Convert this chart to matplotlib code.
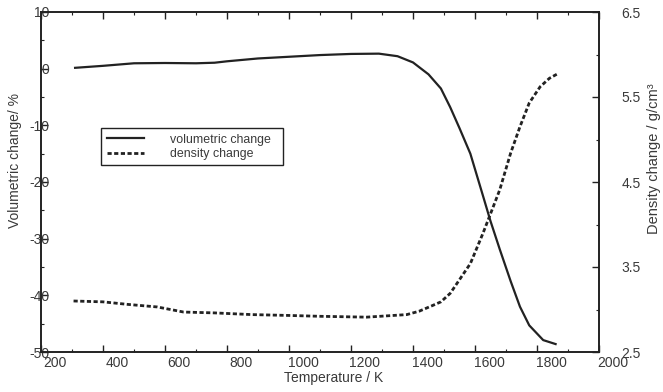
import matplotlib
matplotlib.use("Agg")
import matplotlib.pyplot as plt
from matplotlib.patches import Rectangle
from matplotlib.transforms import ScaledTranslation
from matplotlib.ticker import MultipleLocator

plt.rcParams["font.family"] = ["Liberation Sans", "DejaVu Sans"]
plt.rcParams["axes.unicode_minus"] = False

# ---------- data ----------
temp_vol = [310, 400, 500, 600, 700, 760, 800, 900, 1000, 1100, 1200, 1290,
            1350, 1400, 1450, 1490, 1520, 1550, 1585, 1625, 1650, 1680,
            1715, 1745, 1775, 1820, 1860]
vol_change = [0.15, 0.5, 0.95, 1.0, 0.95, 1.05, 1.3, 1.8, 2.1, 2.4, 2.6, 2.65,
              2.2, 1.1, -1.0, -3.5, -6.8, -10.5, -15.0, -22.3, -26.9, -31.9,
              -37.5, -42.0, -45.3, -47.9, -48.6]

temp_den = [305, 400, 480, 575, 660, 760, 880, 1000, 1100, 1250, 1380, 1420,
            1465, 1490, 1520, 1535, 1585, 1625, 1660, 1680, 1715, 1745,
            1775, 1810, 1840, 1865]
den_change = [3.10, 3.09, 3.06, 3.03, 2.97, 2.96, 2.94, 2.93, 2.92, 2.91,
              2.94, 2.98, 3.05, 3.09, 3.19, 3.27, 3.54, 3.89, 4.22, 4.41,
              4.84, 5.15, 5.43, 5.62, 5.72, 5.77]

ink = "#222222"
txt = "#3a3a3a"

fig = plt.figure(figsize=(6.63, 3.92), dpi=100)
ax = fig.add_axes([41 / 663, 40 / 392, 558 / 663, 340 / 392])
ax2 = ax.twinx()

l1, = ax.plot(temp_vol, vol_change, color=ink, lw=1.6, label="volumetric change")
l2, = ax2.plot(temp_den, den_change, color=ink, lw=2.0, ls=(0, (1.5, 0.9)),
               label="density change")

ax.set_xlim(200, 2000)
ax.set_ylim(-50, 10)
ax2.set_ylim(2.5, 6.5)

ax.xaxis.set_major_locator(MultipleLocator(200))
ax.xaxis.set_minor_locator(MultipleLocator(100))
ax.yaxis.set_major_locator(MultipleLocator(10))
ax.yaxis.set_minor_locator(MultipleLocator(5))
ax2.set_yticks([2.5, 3.5, 4.5, 5.5, 6.5])
ax2.set_yticks([3.0, 4.0, 5.0, 6.0], minor=True)
ax2.set_yticklabels(["2.5", "3.5", "4.5", "5.5", "6.5"])

ax.tick_params(axis="x", which="both", direction="in", top=True, colors=ink,
               labelcolor=txt, labelsize=10, pad=3)
ax.tick_params(axis="x", which="major", length=5, width=1)
ax.tick_params(axis="x", which="minor", length=2.5, width=0.8)
ax.tick_params(axis="y", which="both", direction="in", colors=ink,
               labelcolor=txt, labelsize=10, pad=-6)
ax.tick_params(axis="y", which="major", length=5, width=1)
ax.tick_params(axis="y", which="minor", length=2.5, width=0.8)
ax2.tick_params(axis="y", which="both", direction="in", colors=ink,
                labelcolor=txt, labelsize=10, pad=16)
ax2.tick_params(axis="y", which="major", length=5, width=1)
ax2.tick_params(axis="y", which="minor", length=2.5, width=0.8)

# x tick labels sit a little to the right of their ticks in the original
shift = ScaledTranslation(14 / 100, 0, fig.dpi_scale_trans)
for lab in ax.get_xticklabels():
    lab.set_transform(lab.get_transform() + shift)

for a in (ax, ax2):
    for s in a.spines.values():
        s.set_color(ink)
        s.set_linewidth(1.2)

ax.set_xlabel("Temperature / K", fontsize=10, color=txt, labelpad=0)
ax.xaxis.set_label_coords(0.5 + 14 / 558, -0.055)
ax.set_ylabel("Volumetric change/ %", fontsize=10, color=txt)
ax.yaxis.set_label_coords(-19 / 558, 0.562)
ax2.set_ylabel("Density change / g/cm³", fontsize=10.5, color=txt)
ax2.yaxis.set_label_coords(1 + 48 / 558, 0.57)

# legend text and samples, frame drawn separately to match the box size
leg = ax.legend(handles=[l1, l2], loc="upper left",
                bbox_to_anchor=(60 / 558, 224 / 340), borderaxespad=0,
                frameon=False, fontsize=8.9,
                handlelength=3.0, handletextpad=2.1, labelspacing=0.2,
                borderpad=0.45)
for t in leg.get_texts():
    t.set_color(txt)
ax.add_patch(Rectangle((60 / 558, 187 / 340), 182 / 558, 37 / 340,
                       transform=ax.transAxes, fill=False, edgecolor=ink,
                       lw=1.0, zorder=5))

fig.savefig("out.png", dpi=100)
